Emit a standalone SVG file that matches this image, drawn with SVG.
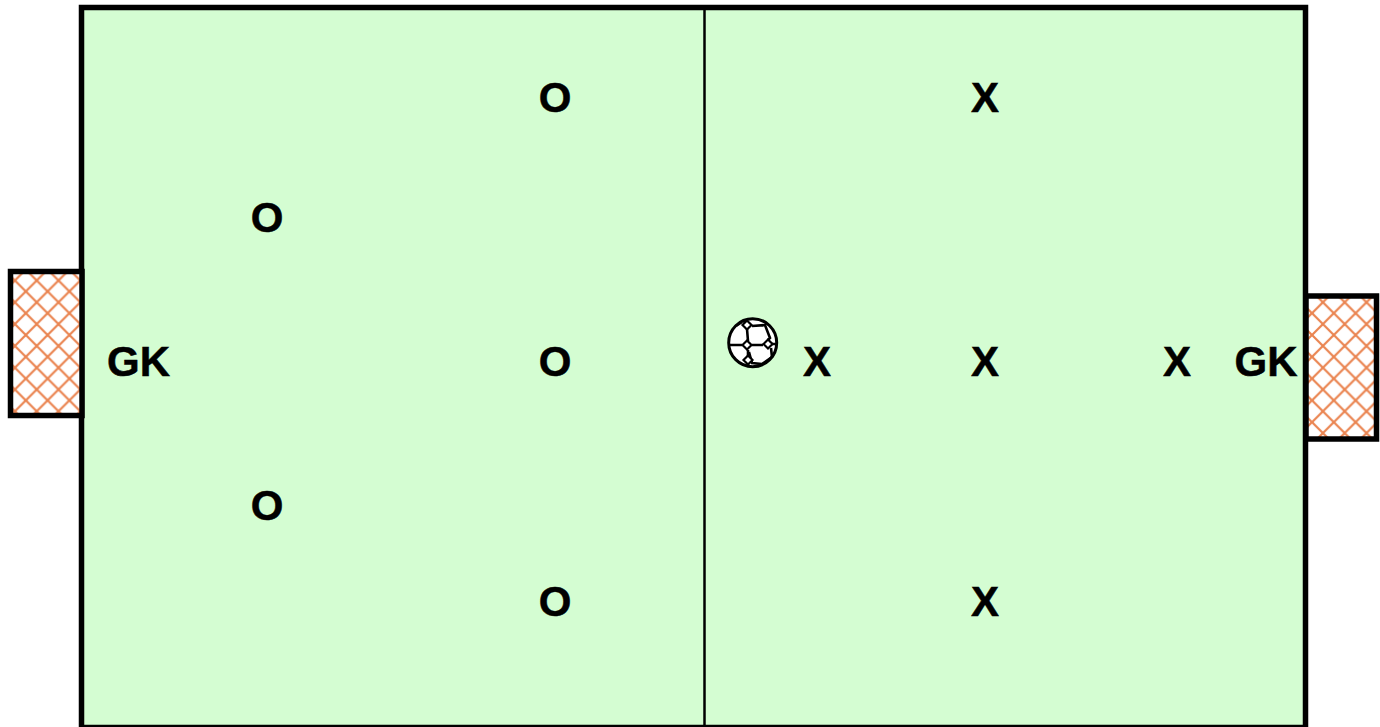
<svg xmlns="http://www.w3.org/2000/svg" width="1380" height="727" viewBox="0 0 1380 727">
<style>
text{font-family:"Liberation Sans",Arial,sans-serif;font-weight:700;font-size:42px;fill:#000;stroke:#000;stroke-width:.5;text-anchor:middle}
.goal{fill:url(#net);stroke:#000;stroke-width:5.500}
.b{fill:none;stroke:#000;stroke-width:2.600}
.d{fill:#fff;stroke:#000;stroke-width:2.200}
</style>
<defs>
<pattern id="net" width="21.800" height="21.800" patternUnits="userSpaceOnUse" patternTransform="translate(4 8)">
<rect width="21.800" height="21.800" fill="#fff"/>
<path d="M0 0L21.800 21.800M21.800 0L0 21.800" stroke="#ea8450" stroke-width="2.200" fill="none"/>
</pattern>
</defs>
<rect width="1380" height="727" fill="#fff"/>
<g id="field">
<rect x="81.500" y="7.500" width="1224" height="720" fill="#d4fdd2" stroke="#000" stroke-width="5.500"/>
<line x1="704.500" y1="8" x2="704.500" y2="727" stroke="#000" stroke-width="2.500"/>
</g>
<g id="goal-left"><rect class="goal" x="10.500" y="271.500" width="71.500" height="144"/></g>
<g id="goal-right"><rect class="goal" x="1306" y="296" width="70.500" height="143"/></g>
<g id="ball">
<circle cx="752.700" cy="342.700" r="24" fill="#fff" stroke="#000" stroke-width="3"/>
<path class="b" d="M743 320L747 325M747 329L748 341M752 326L765 325L770 338L768 340M763 345L752 345M730 345L742 345M772 344L777 344M771 348L772 357L762 364L752 363L749 352M748 350L748 367M736 326L742 322"/>
<path class="d" d="M747 320.500L751.500 325L747 329.500L742.500 325ZM747 340.500L751.500 345L747 349.500L742.500 345ZM768 339.500L772.500 344L768 348.500L763.500 344ZM748 355.500L752.500 360L748 364.500L743.500 360Z"/>
</g>
<g id="o1"><text x="555" y="112">O</text></g>
<g id="o2"><text x="267" y="232">O</text></g>
<g id="o3"><text x="555" y="376">O</text></g>
<g id="o4"><text x="267" y="520">O</text></g>
<g id="o5"><text x="555" y="616">O</text></g>
<g id="gk-left"><text x="138.500" y="376">GK</text></g>
<g id="x1"><text x="985" y="112">X</text></g>
<g id="x2"><text x="817" y="376">X</text></g>
<g id="x3"><text x="985" y="376">X</text></g>
<g id="x4"><text x="1177" y="376">X</text></g>
<g id="x5"><text x="985" y="616">X</text></g>
<g id="gk-right"><text x="1266" y="376">GK</text></g>
</svg>
